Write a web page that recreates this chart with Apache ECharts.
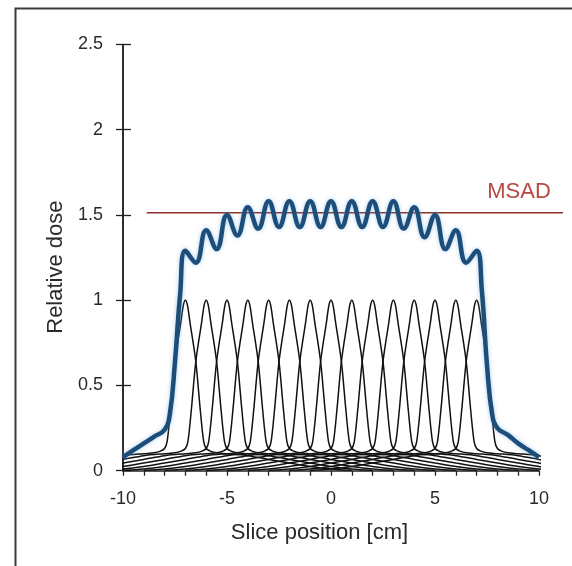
<!DOCTYPE html>
<html>
<head>
<meta charset="utf-8">
<script src="https://cdn.jsdelivr.net/npm/echarts@6/dist/echarts.min.js"></script>
<style>html,body{margin:0;padding:0;background:#fff}#c{width:572px;height:566px}</style>
</head>
<body>
<div id="c"></div>
<script>
// ---- data ----
const sliceCenters = [-7, -6, -5, -4, -3, -2, -1, 0, 1, 2, 3, 4, 5, 6, 7];
// single-slice profile: distance from slice centre [cm] and relative dose
const profileDistance = [0, 0.1, 0.22, 0.5, 0.72, 0.88, 1.0, 1.2, 1.5, 2, 3, 4, 5, 6, 7, 8];
const profileDose     = [1.0, 0.97, 0.87, 0.64, 0.35, 0.17, 0.13, 0.115, 0.105, 0.1, 0.088, 0.066, 0.045, 0.025, 0.01, 0.002];
// multiple scan average dose profile (blue curve)
const sumX = [-10, -9.5, -9, -8.5, -8, -7.75, -7.5, -7.25, -7, -6.5, -6, -5.5, -5, -4.5, -4, -3.5, -3, -2.5, -2, -1.5, -1, -0.5, 0, 0.5, 1, 1.5, 2, 2.5, 3, 3.5, 4, 4.5, 5, 5.5, 6, 6.5, 7, 7.25, 7.5, 7.75, 8, 8.5, 9, 9.5, 10];
const sumY = [0.08, 0.12, 0.16, 0.2, 0.24, 0.33, 0.64, 1.04, 1.29, 1.22, 1.41, 1.3, 1.5, 1.38, 1.545, 1.42, 1.58, 1.43, 1.58, 1.43, 1.58, 1.43, 1.58, 1.43, 1.58, 1.43, 1.58, 1.43, 1.58, 1.42, 1.545, 1.37, 1.5, 1.3, 1.41, 1.22, 1.29, 1.06, 0.62, 0.33, 0.25, 0.21, 0.16, 0.12, 0.08];
const msadValue = 1.513;
const msadX = [-8.86, 11.15];
const xTicks = [-10, -5, 0, 5, 10];

// ---- build series ----
const series = [];
sliceCenters.forEach(function (c) {
  const pts = [];
  for (let k = profileDistance.length - 1; k > 0; k--) pts.push([c - profileDistance[k], profileDose[k]]);
  for (let k = 0; k < profileDistance.length; k++) pts.push([c + profileDistance[k], profileDose[k]]);
  series.push({
    type: 'line', data: pts, smooth: 0.3, showSymbol: false, silent: true, z: 2,
    lineStyle: { color: '#111', width: 1.5 }
  });
});
// MSAD reference line (drawn on an overlay grid that extends past the plot's right edge)
series.push({
  type: 'line', xAxisIndex: 1, yAxisIndex: 1,
  data: msadX.map(function (x) { return [x, msadValue]; }),
  showSymbol: false, z: 3, silent: true,
  lineStyle: { color: '#8e2f2a', width: 1.5 }
});
series.push({
  type: 'line', data: sumX.map(function (x, i) { return [x, sumY[i]]; }),
  smooth: 0.45, showSymbol: false, z: 4, silent: true,
  lineStyle: { color: '#1d4e7a', width: 4.5, shadowColor: 'rgba(110,170,225,0.6)', shadowBlur: 4 }
});

const font = 'Liberation Sans, Arial, sans-serif';
const plotLeft = 123, plotRight = 33, plotTop = 44.5, plotBottom = 95.3;
const pxPerCm = (572 - plotLeft - plotRight) / 20;
const overlayRight = 4;
const overlayMax = -10 + (572 - plotLeft - overlayRight) / pxPerCm;

const chart = echarts.init(document.getElementById('c'), null, { renderer: 'canvas' });
chart.setOption({
  animation: false,
  backgroundColor: '#ffffff',
  grid: [
    { left: plotLeft, right: plotRight, top: plotTop, bottom: plotBottom, containLabel: false, outerBoundsMode: 'none' },
    { left: plotLeft, right: overlayRight, top: plotTop, bottom: plotBottom, containLabel: false, outerBoundsMode: 'none' }
  ],
  xAxis: [{
    type: 'value', min: -10, max: 10, interval: 1, gridIndex: 0,
    name: 'Slice position [cm]', nameLocation: 'middle', nameGap: 51,
    nameTextStyle: { fontSize: 22, color: '#2a2a2a', fontFamily: font, padding: [0, 23, 0, 0] },
    axisLine: { onZero: false, lineStyle: { color: '#222', width: 1.5 } },
    axisTick: { show: true, inside: false, length: 5, lineStyle: { color: '#222', width: 1.3 } },
    axisLabel: {
      margin: 19, fontSize: 18, color: '#2a2a2a', fontFamily: font,
      formatter: function (v) { return xTicks.indexOf(v) >= 0 ? String(v) : ''; }
    },
    splitLine: { show: false }
  }, {
    type: 'value', min: -10, max: overlayMax, gridIndex: 1, show: false
  }],
  yAxis: [{
    type: 'value', min: 0, max: 2.5, interval: 0.5, gridIndex: 0,
    name: 'Relative dose', nameLocation: 'middle', nameGap: 55,
    nameTextStyle: { fontSize: 22, color: '#2a2a2a', fontFamily: font, padding: [0, 19, 0, 0] },
    axisLine: { show: true, onZero: false, lineStyle: { color: '#222', width: 1.5 } },
    axisTick: { show: true, inside: false, length: 7, lineStyle: { color: '#222', width: 1.3 } },
    axisLabel: { margin: 20, fontSize: 18, color: '#2a2a2a', fontFamily: font },
    splitLine: { show: false }
  }, {
    type: 'value', min: 0, max: 2.5, interval: 0.5, position: 'left', gridIndex: 1,
    axisLine: { show: true, onZero: false, lineStyle: { color: '#222', width: 1.5 } },
    axisTick: { show: true, inside: true, length: 8, lineStyle: { color: '#222', width: 1.3 } },
    axisLabel: { show: false },
    splitLine: { show: false }
  }],
  graphic: [
    { type: 'rect', left: 13, top: 6, shape: { width: 620, height: 620 }, style: { fill: 'none', stroke: '#3a3a3a', lineWidth: 2 }, silent: true },
    { type: 'text', x: 519, y: 192, style: { text: 'MSAD', fill: '#b8473f', font: '22px ' + font, textAlign: 'center', textVerticalAlign: 'middle' } }
  ],
  series: series
});
</script>
</body>
</html>
